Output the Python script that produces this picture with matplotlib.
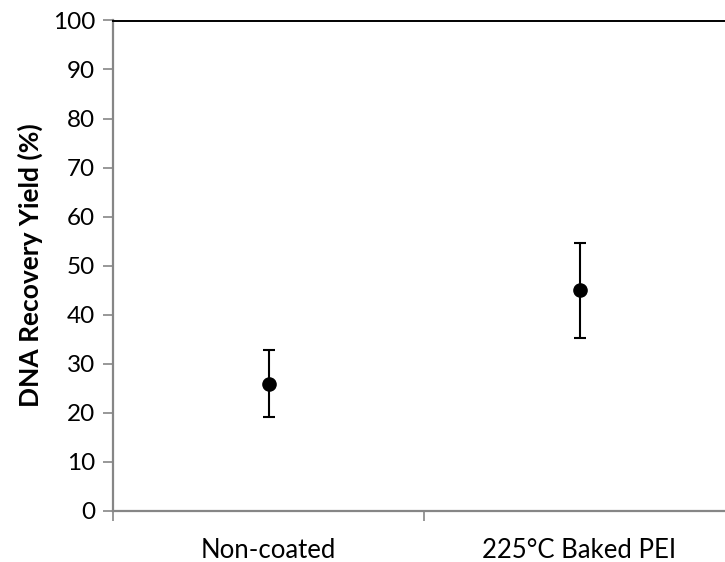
import matplotlib
matplotlib.use('Agg')
import matplotlib.pyplot as plt
import numpy as np

# datos
categorias = ["Non-coated", "225°C Baked PEI"]
rendimiento = [25.9, 44.9]
error = [6.9, 9.7]
yticks = [0, 10, 20, 30, 40, 50, 60, 70, 80, 90, 100]

plt.rcParams['font.family'] = ['Lato', 'DejaVu Sans']
gris = "#868686"

fig = plt.figure(figsize=(7.25, 5.62), dpi=100)
# el eje derecho queda fuera de la imagen, como en el original
ax = fig.add_axes([113 / 725, 1 - 510.5 / 562, 622 / 725, 490 / 562])

x = np.arange(len(categorias)) + 0.5
ax.errorbar(x, rendimiento, yerr=error, fmt='o', color='black', markersize=9.5,
            elinewidth=1.5, capsize=4.5, capthick=1.5, zorder=5)

ax.set_xlim(0, len(categorias))
ax.set_ylim(0, 100)
ax.set_yticks(yticks)
ax.set_yticklabels([str(v) for v in yticks], fontsize=17.5)

# marcas en los limites de categoria, etiquetas centradas
ax.set_xticks(np.arange(len(categorias) + 1))
ax.set_xticklabels([])
ax.set_xticks(x, minor=True)
ax.set_xticklabels(categorias, minor=True, fontsize=18.5)
ax.tick_params(axis='x', which='minor', length=0, pad=20)
ax.tick_params(axis='x', which='major', length=7, width=1.2, color=gris, direction='out')
ax.tick_params(axis='y', length=7, width=1.2, color=gris, direction='out', pad=6)

ax.spines['right'].set_visible(False)
ax.spines['left'].set_color(gris)
ax.spines['left'].set_linewidth(1.6)
ax.spines['bottom'].set_color(gris)
ax.spines['bottom'].set_linewidth(1.6)
ax.spines['top'].set_color('black')
ax.spines['top'].set_linewidth(1.4)

ax.set_ylabel("DNA Recovery Yield (%)", fontsize=19, fontweight='bold', labelpad=7)

plt.savefig("out.png", dpi=100, facecolor='white')
plt.close()
